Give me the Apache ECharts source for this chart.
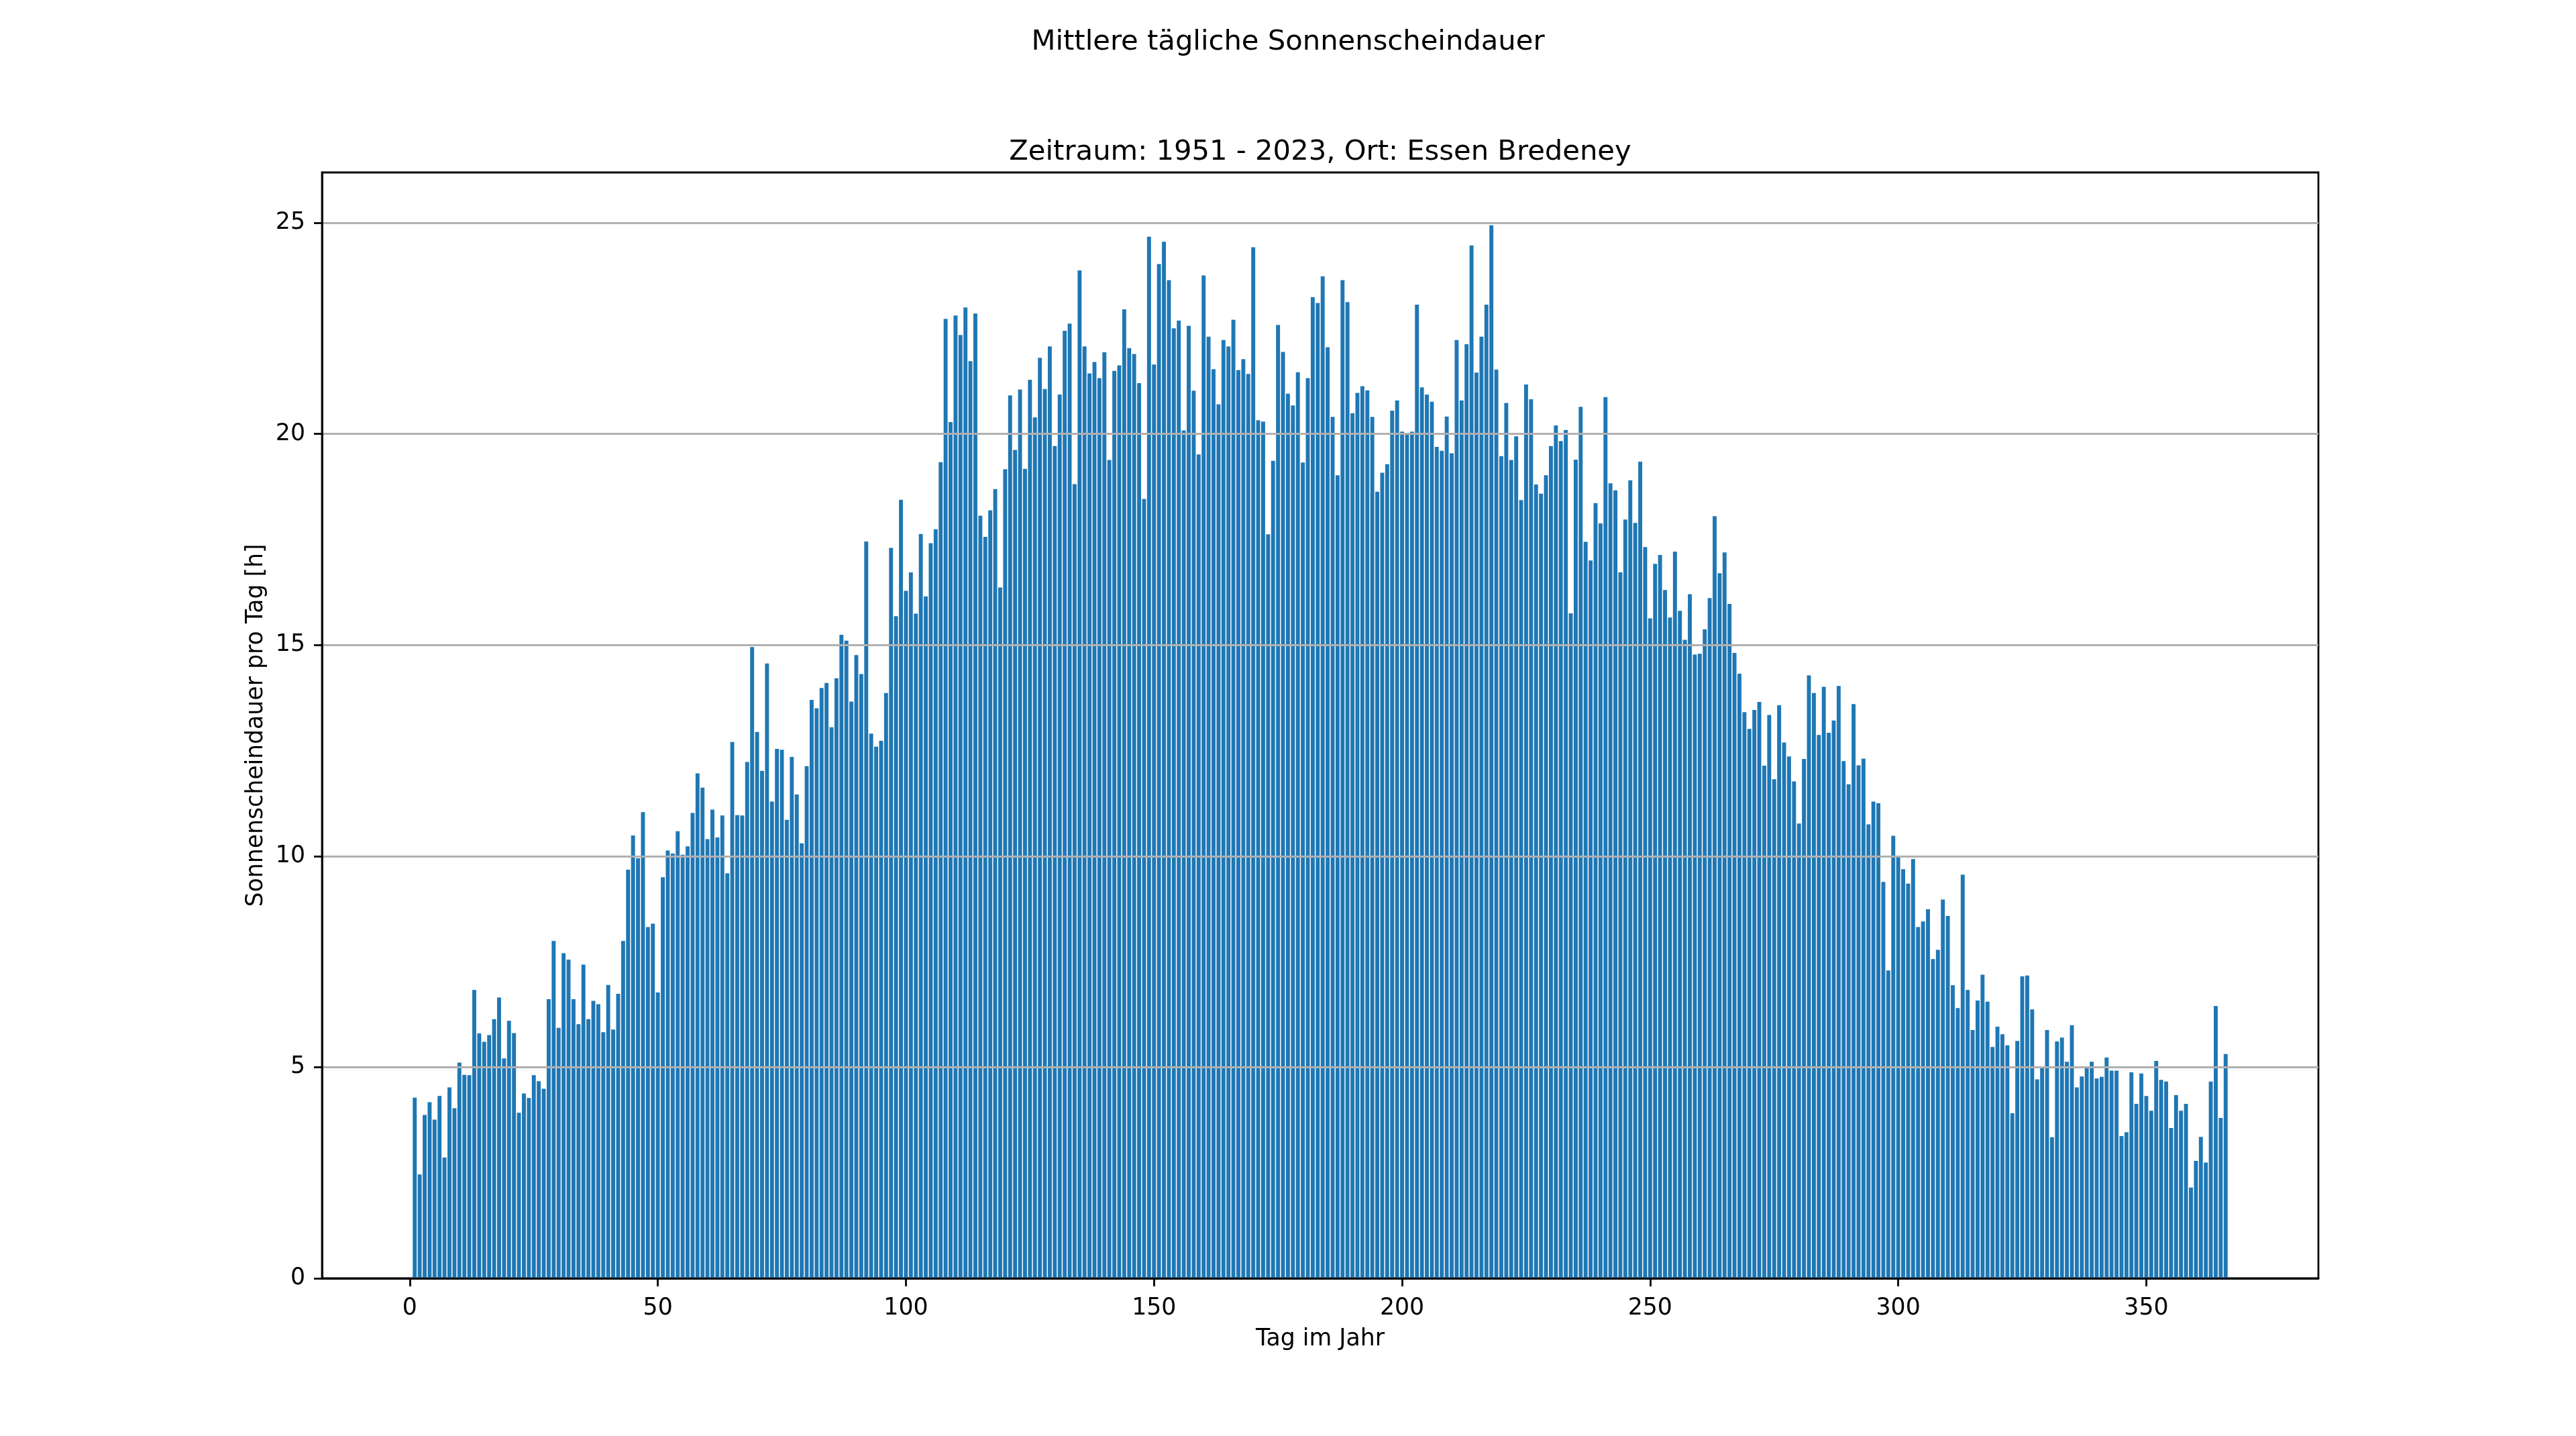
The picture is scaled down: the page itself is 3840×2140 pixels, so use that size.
<!DOCTYPE html>
<html>
<head>
<meta charset="utf-8">
<title>Mittlere tägliche Sonnenscheindauer</title>
<script src="https://cdn.jsdelivr.net/npm/echarts@6/dist/echarts.min.js"></script>
<style>
  html, body { margin: 0; padding: 0; background: #fff; }
  #main { width: 3840px; height: 2140px; }
</style>
</head>
<body>
<div id="main"></div>
<script>
// mittlere Sonnenscheindauer pro Tag [h], Tag 1 .. 366
var tage001_050 = [
  4.28, 2.46, 3.87, 4.17, 3.76, 4.32, 2.86, 4.52, 4.03, 5.11,
  4.82, 4.81, 6.83, 5.80, 5.60, 5.76, 6.14, 6.65, 5.21, 6.10,
  5.81, 3.92, 4.38, 4.27, 4.81, 4.67, 4.49, 6.61, 7.99, 5.93,
  7.70, 7.55, 6.61, 6.02, 7.43, 6.14, 6.57, 6.49, 5.83, 6.95,
  5.89, 6.74, 7.99, 9.68, 10.49, 9.95, 11.04, 8.32, 8.40, 6.77
];
var tage051_100 = [
  9.50, 10.13, 10.06, 10.59, 10.03, 10.23, 11.02, 11.96, 11.62, 10.40,
  11.10, 10.44, 10.96, 9.59, 12.70, 10.97, 10.96, 12.23, 14.95, 12.94,
  12.02, 14.56, 11.29, 12.54, 12.52, 10.86, 12.35, 11.46, 10.30, 12.13,
  13.70, 13.50, 13.98, 14.10, 13.05, 14.21, 15.24, 15.10, 13.66, 14.76,
  14.31, 17.45, 12.90, 12.59, 12.73, 13.86, 17.30, 15.68, 18.44, 16.28
];
var tage101_150 = [
  16.72, 15.74, 17.63, 16.15, 17.41, 17.74, 19.33, 22.72, 20.28, 22.80,
  22.34, 22.99, 21.72, 22.85, 18.06, 17.56, 18.19, 18.69, 16.36, 19.16,
  20.91, 19.62, 21.05, 19.17, 21.28, 20.39, 21.80, 21.06, 22.07, 19.71,
  20.93, 22.44, 22.61, 18.81, 23.87, 22.07, 21.43, 21.70, 21.32, 21.93,
  19.38, 21.49, 21.62, 22.95, 22.03, 21.89, 21.20, 18.46, 24.67, 21.64
];
var tage151_200 = [
  24.02, 24.55, 23.64, 22.50, 22.68, 20.08, 22.56, 21.02, 19.51, 23.75,
  22.30, 21.53, 20.70, 22.22, 22.07, 22.70, 21.51, 21.77, 21.42, 24.42,
  20.32, 20.29, 17.62, 19.36, 22.58, 21.94, 20.95, 20.67, 21.46, 19.32,
  21.32, 23.24, 23.10, 23.73, 22.05, 20.40, 19.02, 23.64, 23.12, 20.49,
  20.97, 21.13, 21.03, 20.40, 18.63, 19.08, 19.28, 20.55, 20.79, 20.05
];
var tage201_250 = [
  19.98, 20.05, 23.06, 21.10, 20.93, 20.76, 19.69, 19.60, 20.41, 19.54,
  22.22, 20.79, 22.12, 24.46, 21.45, 22.30, 23.06, 24.94, 21.52, 19.47,
  20.73, 19.38, 19.94, 18.43, 21.17, 20.82, 18.80, 18.58, 19.02, 19.71,
  20.20, 19.83, 20.09, 15.75, 19.39, 20.64, 17.44, 17.00, 18.36, 17.88,
  20.87, 18.83, 18.66, 16.72, 17.97, 18.90, 17.89, 19.34, 17.32, 15.63
];
var tage251_300 = [
  16.92, 17.13, 16.30, 15.65, 17.21, 15.81, 15.12, 16.20, 14.77, 14.79,
  15.37, 16.11, 18.05, 16.70, 17.19, 15.97, 14.81, 14.32, 13.41, 13.01,
  13.46, 13.65, 12.14, 13.34, 11.82, 13.57, 12.69, 12.36, 11.77, 10.77,
  12.30, 14.28, 13.86, 12.87, 14.01, 12.92, 13.21, 14.03, 12.25, 11.70,
  13.60, 12.15, 12.31, 10.75, 11.29, 11.25, 9.39, 7.29, 10.48, 9.98
];
var tage301_350 = [
  9.69, 9.35, 9.93, 8.32, 8.45, 8.74, 7.56, 7.78, 8.97, 8.58,
  6.94, 6.40, 9.56, 6.83, 5.88, 6.58, 7.19, 6.55, 5.48, 5.96,
  5.78, 5.52, 3.91, 5.62, 7.15, 7.17, 6.37, 4.71, 4.98, 5.88,
  3.34, 5.61, 5.70, 5.13, 5.99, 4.52, 4.78, 4.98, 5.13, 4.73,
  4.77, 5.23, 4.92, 4.92, 3.37, 3.46, 4.88, 4.13, 4.85, 4.32
];
var tage351_366 = [
  3.97, 5.15, 4.70, 4.66, 3.56, 4.34, 3.97, 4.13, 2.15, 2.78,
  3.35, 2.74, 4.66, 6.45, 3.80, 5.31
];

var xTicks = [0, 50, 100, 150, 200, 250, 300, 350];
var yTicks = [0, 5, 10, 15, 20, 25];

var werte = [].concat(tage001_050, tage051_100, tage101_150, tage151_200,
  tage201_250, tage251_300, tage301_350, tage351_366);
// Tag im Jahr = Index + 1
var daten = werte.map(function (v, i) { return [i + 1, v]; });

var schrift = 'DejaVu Sans';
var lw = 2.78;

var myChart = echarts.init(document.getElementById('main'));
var option = {
  backgroundColor: '#fff',
  animation: false,
  title: [
    {
      text: 'Mittlere tägliche Sonnenscheindauer',
      left: 1920,
      top: 42,
      textAlign: 'center',
      padding: 0,
      textStyle: { fontFamily: schrift, fontSize: 41.7, fontWeight: 'normal', color: '#000' }
    },
    {
      text: 'Zeitraum: 1951 - 2023, Ort: Essen Bredeney',
      left: 1968,
      top: 206,
      textAlign: 'center',
      padding: 0,
      textStyle: { fontFamily: schrift, fontSize: 41.7, fontWeight: 'normal', color: '#000' }
    }
  ],
  grid: {
    left: 480,
    right: 384,
    top: 257,
    bottom: 235,
    show: true,
    borderColor: '#000',
    borderWidth: lw,
    backgroundColor: 'transparent'
  },
  xAxis: {
    type: 'value',
    min: -17.69,
    max: 384.69,
    z: 5,
    name: 'Tag im Jahr',
    nameLocation: 'middle',
    nameGap: 73,
    nameTextStyle: { fontFamily: schrift, fontSize: 34.7, color: '#000' },
    axisLine: { show: true, onZero: false, lineStyle: { color: '#000', width: lw } },
    axisTick: { show: true, customValues: xTicks, length: 12, lineStyle: { color: '#000', width: lw } },
    axisLabel: { customValues: xTicks, fontFamily: schrift, fontSize: 34.7, color: '#000', margin: 27 },
    splitLine: { show: false }
  },
  yAxis: {
    type: 'value',
    min: 0,
    max: 26.19,
    interval: 5,
    z: 5,
    name: 'Sonnenscheindauer pro Tag [h]',
    nameLocation: 'middle',
    nameGap: 81,
    nameRotate: 90,
    nameTextStyle: { fontFamily: schrift, fontSize: 34.7, color: '#000' },
    axisLine: { show: true, onZero: false, lineStyle: { color: '#000', width: lw } },
    axisTick: { show: true, customValues: yTicks, length: 12, lineStyle: { color: '#000', width: lw } },
    axisLabel: { customValues: yTicks, fontFamily: schrift, fontSize: 34.7, color: '#000', margin: 25 },
    splitLine: { show: true, lineStyle: { color: '#b0b0b0', width: lw } }
  },
  series: [
    {
      name: 'Sonnenscheindauer',
      type: 'bar',
      data: daten,
      barWidth: '80%',
      itemStyle: { color: '#1f77b4' },
      silent: true
    }
  ]
};
myChart.setOption(option);
</script>
</body>
</html>
